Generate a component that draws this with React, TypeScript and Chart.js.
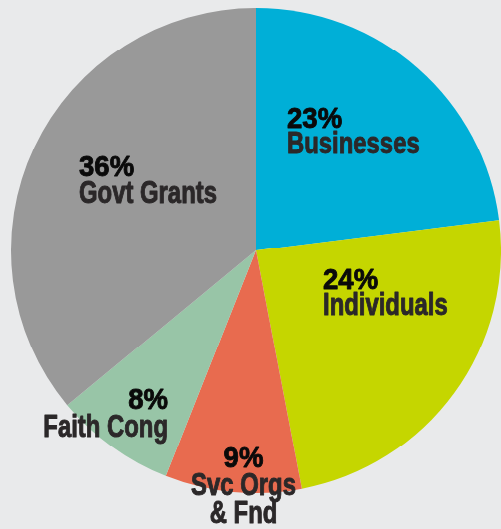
import React, { useEffect, useRef } from "react";
import { Chart, registerables } from "chart.js";

Chart.register(...registerables);

const categories = ["Businesses", "Individuals", "Svc Orgs\n& Fnd", "Faith Cong", "Govt Grants"];
const shares = [23, 24, 9, 8, 36];
const colors = ["#00afd7", "#c5d600", "#e86b4f", "#98c5a7", "#999999"];

// label placement relative to pie centre (in units of a 245px radius)
const labelAnchors = [
  { dx: 31, dy: -123.7, gap: 25.2, align: "left" },
  { dx: 67, dy: 38.9, gap: 26.3, align: "left" },
  { dx: -12.5, dy: 218.7, gap: 28.3, align: "center" },
  { dx: -88, dy: 160.1, gap: 28.3, align: "right" },
  { dx: -177, dy: -75.2, gap: 27.2, align: "left" },
];

const BG = "#e9eaeb";

const labelPlugin = {
  id: "sliceLabels",
  afterDatasetsDraw(chart: any) {
    const meta = chart.getDatasetMeta(0);
    const arc0 = meta.data[0];
    if (!arc0) return;
    const cx = arc0.x;
    const cy = arc0.y;
    const k = arc0.outerRadius / 245;
    const ctx = chart.ctx;
    ctx.save();
    ctx.textBaseline = "alphabetic";
    ctx.lineJoin = "round";
    categories.forEach((cat, i) => {
      const a = labelAnchors[i];
      const x = cx + a.dx * k;
      let y = cy + a.dy * k;
      ctx.textAlign = a.align;
      ctx.fillStyle = "#0a0a0a";
      ctx.strokeStyle = "#0a0a0a";
      ctx.font = 'bold 29px "Liberation Sans", Arial, sans-serif';
      ctx.save();
      ctx.translate(x, y);
      ctx.scale(0.95, 1);
      ctx.lineWidth = 0.9;
      ctx.fillText(shares[i] + "%", 0, 0);
      ctx.strokeText(shares[i] + "%", 0, 0);
      ctx.restore();
      ctx.fillStyle = "#2b2829";
      ctx.strokeStyle = "#2b2829";
      ctx.font = 'bold 31px "Liberation Sans", Arial, sans-serif';
      cat.split("\n").forEach((line) => {
        y += a.gap * k;
        ctx.save();
        ctx.translate(x, y);
        ctx.scale(0.77, 1);
        ctx.lineWidth = 1.0;
        ctx.fillText(line, 0, 0);
        ctx.strokeText(line, 0, 0);
        ctx.restore();
      });
    });
    ctx.restore();
  },
};

export default function App() {
  const ref = useRef<HTMLCanvasElement | null>(null);
  useEffect(() => {
    document.body.style.margin = "0";
    document.body.style.background = BG;
    if (!ref.current) return;
    const chart = new Chart(ref.current, {
      type: "pie",
      data: {
        labels: categories.map((c) => c.replace("\n", " ")),
        datasets: [
          {
            data: shares,
            backgroundColor: colors,
            borderWidth: 0,
          },
        ],
      },
      options: {
        animation: false,
        responsive: true,
        maintainAspectRatio: false,
        layout: { padding: { left: 11, right: 0, top: 8, bottom: 31 } },
        plugins: {
          legend: { display: false },
          tooltip: { enabled: false },
        },
      },
      plugins: [labelPlugin],
    });
    return () => chart.destroy();
  }, []);
  return (
    <div
      style={{
        position: "absolute",
        left: 0,
        top: 0,
        width: 501,
        height: 529,
        background: BG,
        transform: "scaleY(0.99)",
        transformOrigin: "top left",
      }}
    >
      <canvas ref={ref} />
    </div>
  );
}
